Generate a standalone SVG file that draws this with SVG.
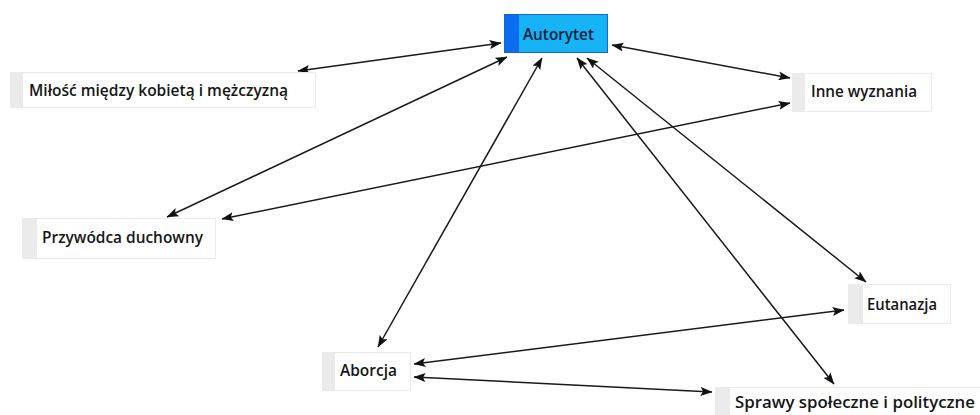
<svg xmlns="http://www.w3.org/2000/svg" width="980" height="415" viewBox="0 0 980 415">
<defs>
<marker id="ah" viewBox="0 0 12 9" refX="11.5" refY="4.5" markerWidth="12" markerHeight="9" markerUnits="userSpaceOnUse" orient="auto-start-reverse">
<path d="M0,0 L12,4.5 L0,9 L2.5,4.5 z" fill="#111"/>
</marker>
</defs>
<style>
.edge{stroke:#1a1a1a;stroke-width:1.5;fill:none;marker-start:url(#ah);marker-end:url(#ah)}
.box{fill:#fff;stroke:#ebebeb;stroke-width:1}
.strip{fill:#ebebeb}
.lbl{font-family:"Open Sans","Noto Sans","DejaVu Sans",sans-serif;font-size:17px;font-weight:600;fill:#161616}
.hb{fill:#17b3f7;stroke:#1a66c8;stroke-width:1}
.hs{fill:#0a6cf0}
.hl{font-family:"Open Sans","Noto Sans","DejaVu Sans",sans-serif;font-size:17px;font-weight:600;fill:#14213d}
</style>
<rect width="980" height="415" fill="#fff"/>
<g id="connectors">
<line class="edge" x1="501" y1="43" x2="298" y2="71"/>
<line class="edge" x1="507" y1="57" x2="167" y2="217"/>
<line class="edge" x1="542" y1="58" x2="378" y2="347"/>
<line class="edge" x1="612" y1="45" x2="790" y2="78"/>
<line class="edge" x1="587" y1="58" x2="866" y2="282"/>
<line class="edge" x1="577" y1="58" x2="834" y2="384"/>
<line class="edge" x1="790" y1="103" x2="222" y2="219"/>
<line class="edge" x1="414" y1="364" x2="844" y2="310"/>
<line class="edge" x1="414" y1="377" x2="712" y2="392"/>
</g>
<g id="node-autorytet">
<rect class="hb" x="504.5" y="14.5" width="103" height="38"/>
<rect class="hs" x="505" y="15" width="14" height="37"/>
<text class="hl" x="523" y="40" textLength="71" lengthAdjust="spacingAndGlyphs">Autorytet</text>
</g>
<g id="node-milosc">
<rect class="box" x="10.5" y="72.5" width="305" height="35"/>
<rect class="strip" x="11" y="73" width="12" height="34"/>
<text class="lbl" x="29" y="96" textLength="259" lengthAdjust="spacingAndGlyphs">Miłość między kobietą i mężczyzną</text>
</g>
<g id="node-inne">
<rect class="box" x="792.5" y="73.5" width="139" height="38"/>
<rect class="strip" x="793" y="74" width="12" height="37"/>
<text class="lbl" x="811" y="97" textLength="106" lengthAdjust="spacingAndGlyphs">Inne wyznania</text>
</g>
<g id="node-przywodca">
<rect class="box" x="22.5" y="218.5" width="193" height="40"/>
<rect class="strip" x="23" y="219" width="14" height="39"/>
<text class="lbl" x="42" y="243" textLength="161" lengthAdjust="spacingAndGlyphs">Przywódca duchowny</text>
</g>
<g id="node-eutanazja">
<rect class="box" x="848.5" y="284.5" width="102" height="39"/>
<rect class="strip" x="849" y="285" width="14" height="38"/>
<text class="lbl" x="867" y="310" textLength="70" lengthAdjust="spacingAndGlyphs">Eutanazja</text>
</g>
<g id="node-aborcja">
<rect class="box" x="322.5" y="352.5" width="88" height="38"/>
<rect class="strip" x="323" y="353" width="12" height="37"/>
<text class="lbl" x="340" y="376" textLength="57" lengthAdjust="spacingAndGlyphs">Aborcja</text>
</g>
<g id="node-sprawy">
<rect class="box" x="715.5" y="387.5" width="280" height="40"/>
<rect class="strip" x="716" y="388" width="14" height="39"/>
<text class="lbl" x="735" y="408" textLength="240" lengthAdjust="spacingAndGlyphs">Sprawy społeczne i polityczne</text>
</g>
</svg>
